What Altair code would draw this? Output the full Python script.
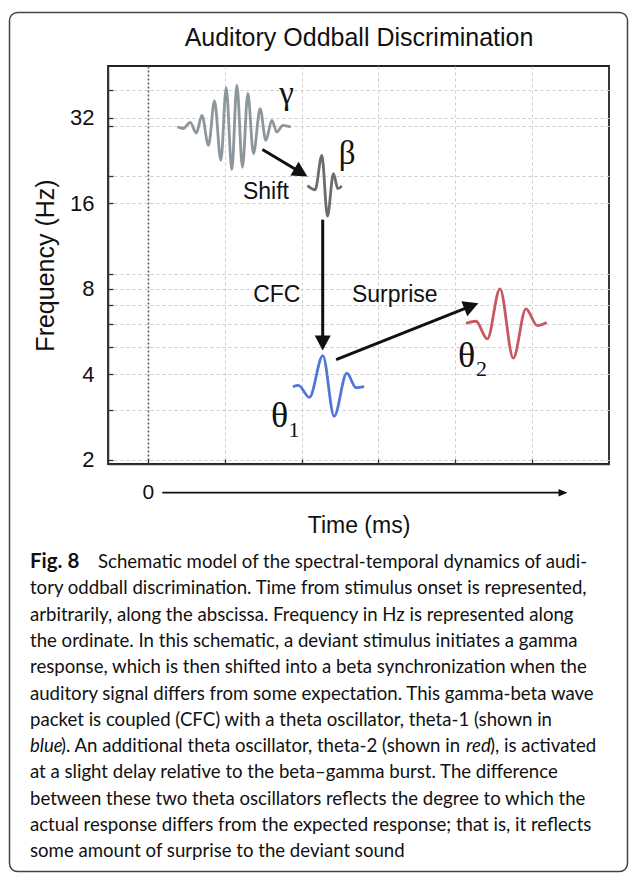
import altair as alt
import pandas as pd

# ---------------- values ----------------
x_grid = [0, 1, 2, 3, 4, 5]
y_grid = [2, 3, 4, 5, 6, 7, 8, 9, 16, 20, 30, 32, 40]
y_label_values = [2, 4, 8, 16, 32]

# wave packets: extrema (time units, Hz)
gamma_t = [0.385, 0.46, 0.55, 0.63, 0.702, 0.788, 0.866, 0.949, 1.018, 1.092,
           1.157, 1.230, 1.300, 1.373, 1.460, 1.534, 1.612, 1.678, 1.756, 1.860]
gamma_hz = [29.66, 29.3, 30.8, 28.25, 32.6, 25.56, 36.6, 22.64, 40.8, 21.0,
            41.6, 21.4, 38.9, 23.9, 34.4, 26.6, 31.3, 28.48, 30.07, 29.66]
beta_t = [2.075, 2.176, 2.263, 2.336, 2.414, 2.471, 2.523]
beta_hz = [18.45, 17.84, 23.57, 14.41, 20.32, 18.0, 18.38]
theta1_t = [1.886, 1.958, 2.101, 2.276, 2.423, 2.588, 2.709, 2.813]
theta1_hz = [3.62, 3.66, 3.32, 4.66, 2.85, 4.04, 3.59, 3.62]
theta2_t = [4.139, 4.269, 4.416, 4.581, 4.754, 4.919, 5.066, 5.189]
theta2_hz = [6.05, 6.15, 5.33, 8.0, 4.56, 6.80, 5.94, 6.09]

band_names = ["gamma", "beta", "theta1", "theta2"]
band_colors = ["#8d969b", "#6c6c6c", "#4f76d8", "#c8585f"]

# arrows
arrow_names = ["Shift", "CFC", "Surprise"]
arrow_t0 = [1.490, 2.274, 2.449]
arrow_hz0 = [24.7, 14.0, 4.51]
arrow_t1 = [1.941, 2.274, 4.153]
arrow_hz1 = [20.9, 5.35, 6.87]
arrow_tip_t = [2.075, 2.274, 4.299]
arrow_tip_hz = [19.88, 4.85, 7.12]
arrow_heading = [120.7, 180, 68.4]
arrow_label_t = [1.536, 1.677, 3.212]
arrow_label_hz = [16.6, 7.18, 7.18]

# greek labels
greek_text = ["γ", "β"]
greek_t = [1.802, 2.592]
greek_hz = [35.66, 21.92]
theta_text = ["θ", "θ"]
theta_t = [1.715, 4.148]
theta_hz = [2.62, 4.26]
sub_text = ["1", "2"]
sub_t = [1.900, 4.340]
sub_hz = [2.40, 3.96]

# time arrow below the panel
time_arrow_t = [0.186, 5.40]
time_arrow_tip_t = [5.46]
time_arrow_hz = [1.535]

title_text = ["Auditory Oddball Discrimination"]

caption_label = ["Fig. 8"]
caption_first = ["Schematic model of the spectral-temporal dynamics of audi-"]
caption_lines = [
    "tory oddball discrimination. Time from stimulus onset is represented,",
    "arbitrarily, along the abscissa. Frequency in Hz is represented along",
    "the ordinate. In this schematic, a deviant stimulus initiates a gamma",
    "response, which is then shifted into a beta synchronization when the",
    "auditory signal differs from some expectation. This gamma-beta wave",
    "packet is coupled (CFC) with a theta oscillator, theta-1 (shown in",
    None,
    "at a slight delay relative to the beta\u2013gamma burst. The difference",
    "between these two theta oscillators reflects the degree to which the",
    "actual response differs from the expected response; that is, it reflects",
    "some amount of surprise to the deviant sound",
]
caption_l8 = ["blue", "). An additional theta oscillator, theta-2 (shown in", "red", "), is activated"]

# ---------------- tables ----------------
waves = pd.concat([
    pd.DataFrame({"t": gamma_t, "hz": gamma_hz, "band": "gamma"}),
    pd.DataFrame({"t": beta_t, "hz": beta_hz, "band": "beta"}),
    pd.DataFrame({"t": theta1_t, "hz": theta1_hz, "band": "theta1"}),
    pd.DataFrame({"t": theta2_t, "hz": theta2_hz, "band": "theta2"}),
], ignore_index=True)

arrows = pd.DataFrame({"name": arrow_names, "t0": arrow_t0, "hz0": arrow_hz0,
                       "t1": arrow_t1, "hz1": arrow_hz1})
heads = pd.DataFrame({"t": arrow_tip_t, "hz": arrow_tip_hz, "ang": arrow_heading})
arrow_labels = pd.DataFrame({"txt": arrow_names, "t": arrow_label_t, "hz": arrow_label_hz})
greek = pd.DataFrame({"txt": greek_text, "t": greek_t, "hz": greek_hz})
thetas = pd.DataFrame({"txt": theta_text, "t": theta_t, "hz": theta_hz})
subs = pd.DataFrame({"txt": sub_text, "t": sub_t, "hz": sub_hz})
time_line = pd.DataFrame({"t0": [time_arrow_t[0]], "t1": [time_arrow_t[1]], "hz": time_arrow_hz})
time_head = pd.DataFrame({"t": time_arrow_tip_t, "hz": time_arrow_hz})

cap_rows = [(i + 1, s) for i, s in enumerate(caption_lines) if s is not None]
caption_df = pd.DataFrame({"idx": [r[0] for r in cap_rows], "txt": [r[1] for r in cap_rows]})

# ---------------- scales / axes ----------------
W, H = 501, 398
xs = alt.Scale(domain=[-0.52, 6.0], nice=False, zero=False)
ys = alt.Scale(type="log", base=2, domain=[1.936, 48.6], nice=False)

SANS = "Liberation Sans"
SERIF = "Liberation Serif"
CAP = "Lato"
INK = "#111111"

is_zero = "datum.value === 0"
x_main_axis = alt.Axis(
    orient="bottom", values=x_grid, grid=True,
    gridColor={"condition": {"test": is_zero, "value": "#5e5e5e"}, "value": "#cdcdcd"},
    gridDash={"condition": {"test": is_zero, "value": [2, 2]}, "value": [3, 3]},
    gridWidth={"condition": {"test": is_zero, "value": 1.6}, "value": 1},
    ticks=False, tickSize=0, domain=True, domainColor="#333333", domainWidth=1.5,
    labelExpr="datum.value === 0 ? '0' : ''", labelFont=SANS, labelFontSize=21,
    labelColor=INK, labelPadding=28, labelBaseline="middle", labelFlush=False,
    labelOverlap=False, title="Time (ms)", titleFont=SANS, titleFontSize=23,
    titleFontWeight="normal", titleColor=INK, titleY=68, titleBaseline="alphabetic",
)
lab_list = ",".join(str(v) for v in y_label_values)
y_main_axis = alt.Axis(
    orient="left", values=y_grid, grid=True, gridColor="#cdcdcd", gridDash=[3, 3],
    gridWidth=1, ticks=False, tickSize=0, domain=True, domainColor="#333333",
    domainWidth=1.5,
    labelExpr=f"indexof([{lab_list}], datum.value) >= 0 ? format(datum.value, 'd') : ''",
    labelFont=SANS, labelFontSize=22, labelColor=INK, labelPadding=14,
    labelFlush=False, labelOverlap=False, labelBaseline="middle",
    title="Frequency (Hz)", titleFont=SANS, titleFontSize=25, titleFontWeight="normal",
    titleColor=INK, titleX=-54.7, titleBaseline="alphabetic", titleAngle=270,
)
x_tick_axis = alt.Axis(orient="bottom", values=x_grid, offset=-5, tickSize=5,
                       tickColor="#333333", tickWidth=1.3, domain=False, labels=False,
                       grid=False, title="")
y_tick_axis = alt.Axis(orient="left", values=y_grid, offset=-5, tickSize=5,
                       tickColor="#333333", tickWidth=1.3, domain=False, labels=False,
                       grid=False, title="")

# ---------------- layers ----------------
wave_layer = alt.Chart(waves).mark_line(interpolate="monotone", strokeWidth=2.8).encode(
    x=alt.X("t:Q", scale=xs, axis=x_main_axis),
    y=alt.Y("hz:Q", scale=ys, axis=y_main_axis),
    color=alt.Color("band:N", scale=alt.Scale(domain=band_names, range=band_colors), legend=None),
    detail="band:N",
)

shaft_layer = alt.Chart(arrows).mark_rule(strokeWidth=3, color=INK).encode(
    x=alt.X("t0:Q", scale=xs, axis=x_tick_axis),
    y=alt.Y("hz0:Q", scale=ys, axis=y_tick_axis),
    x2="t1:Q", y2="hz1:Q",
)

head_path = "M0,0L0.533,1L-0.533,1Z"
head_layer = alt.Chart(heads).mark_point(shape=head_path, filled=True, size=900,
                                         color=INK, opacity=1, strokeWidth=0).encode(
    x=alt.X("t:Q", scale=xs, axis=None),
    y=alt.Y("hz:Q", scale=ys, axis=None),
    angle=alt.Angle("ang:Q", scale=None),
)

time_shaft = alt.Chart(time_line).mark_rule(strokeWidth=1.6, color=INK).encode(
    x=alt.X("t0:Q", scale=xs, axis=None), x2="t1:Q",
    y=alt.Y("hz:Q", scale=ys, axis=None),
)
time_head_layer = alt.Chart(time_head).mark_point(
    shape="M0,0L0.42,1L-0.42,1Z", filled=True, size=324, color=INK, opacity=1,
    strokeWidth=0, angle=90).encode(
    x=alt.X("t:Q", scale=xs, axis=None),
    y=alt.Y("hz:Q", scale=ys, axis=None),
)

def text_layer(df, font, size, **kw):
    return alt.Chart(df).mark_text(font=font, fontSize=size, baseline="alphabetic",
                                   align="center", color=INK, **kw).encode(
        x=alt.X("t:Q", scale=xs, axis=None),
        y=alt.Y("hz:Q", scale=ys, axis=None),
        text="txt:N",
    )

arrow_text_layer = text_layer(arrow_labels, SANS, 23)
greek_layer = text_layer(greek, SERIF, 33)
theta_layer = text_layer(thetas, SERIF, 36)
sub_layer = text_layer(subs, SERIF, 22)

one = pd.DataFrame({"k": [0]})

frame_layer = alt.Chart(one).mark_rect(fillOpacity=0, stroke="#444444", strokeWidth=1.5,
                                       cornerRadius=8).encode(
    x=alt.value(-98.5), x2=alt.value(519.5), y=alt.value(-53.5), y2=alt.value(805.5)
)

title_layer = alt.Chart(pd.DataFrame({"txt": title_text})).mark_text(
    font=SANS, fontSize=25, baseline="alphabetic", align="center", color=INK).encode(
    x=alt.value(251), y=alt.value(-20), text="txt:N")

CAP_SIZE = 18.6
CAP_Y0 = 502
CAP_LH = 26.3

def cap_seg(texts, xpix, line, weight="normal", style="normal", size=CAP_SIZE):
    return alt.Chart(pd.DataFrame({"txt": texts})).mark_text(
        font=CAP, fontSize=size, baseline="alphabetic", align="left", color=INK,
        fontWeight=weight, fontStyle=style).encode(
        x=alt.value(xpix), y=alt.value(CAP_Y0 + CAP_LH * line), text="txt:N")

caption_body = alt.Chart(caption_df).mark_text(
    font=CAP, fontSize=CAP_SIZE, baseline="alphabetic", align="left", color=INK
).transform_calculate(py=f"{CAP_Y0} + datum.idx * {CAP_LH}").encode(
    x=alt.value(-78), y=alt.Y("py:Q", scale=None), text="txt:N")

cap_parts = [
    cap_seg(caption_label, -78, 0, weight="bold", size=20.5),
    cap_seg(caption_first, -10, 0),
    cap_seg([caption_l8[0]], -78, 7, style="italic"),
    cap_seg([caption_l8[1]], -47, 7),
    cap_seg([caption_l8[2]], 358, 7, style="italic"),
    cap_seg([caption_l8[3]], 382, 7),
]

chart = alt.layer(
    frame_layer, wave_layer, shaft_layer, head_layer, time_shaft, time_head_layer,
    arrow_text_layer, greek_layer, theta_layer, sub_layer, title_layer, caption_body,
    *cap_parts,
).resolve_axis(x="independent", y="independent").properties(
    width=W, height=H,
    autosize=alt.AutoSizeParams(type="none"),
    padding={"left": 108, "top": 66, "right": 20, "bottom": 409},
).configure_view(stroke="#222222", strokeWidth=1.8)

chart.save("out.html", embed_options={"renderer": "svg", "actions": False})
